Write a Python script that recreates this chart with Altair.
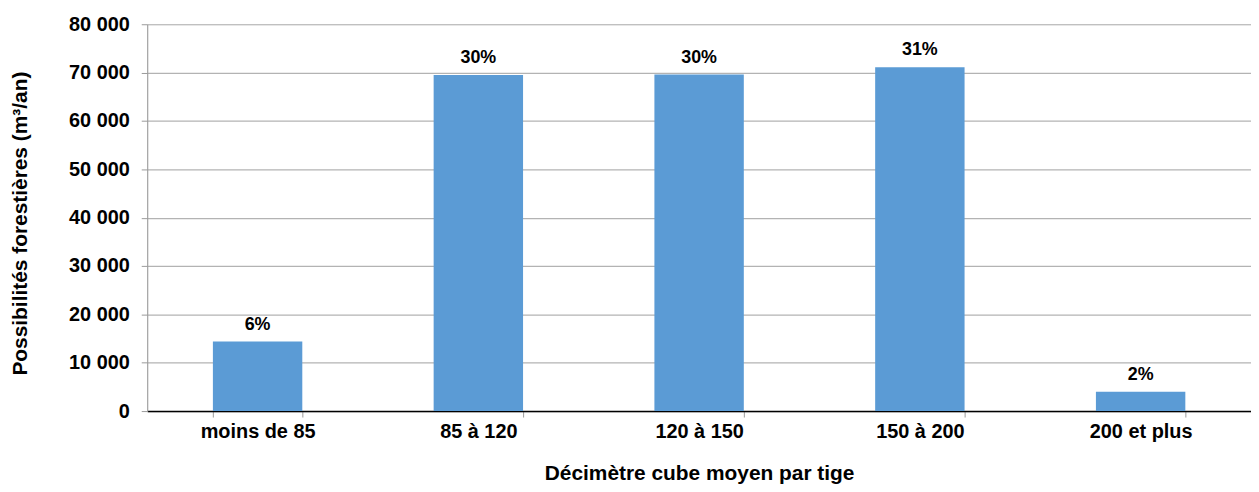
import altair as alt
import pandas as pd

categories = ["moins de 85", "85 à 120", "120 à 150", "150 à 200", "200 et plus"]
values = [14400, 69500, 69600, 71100, 4000]
pct_labels = ["6%", "30%", "30%", "31%", "2%"]

df = pd.DataFrame({"cat": categories, "val": values, "pct": pct_labels})

FONT = "Liberation Sans"

x = alt.X(
    "cat:N",
    sort=categories,
    title="Décimètre cube moyen par tige",
    scale=alt.Scale(paddingInner=0.595, paddingOuter=0.2975),
    axis=alt.Axis(
        labelAngle=0,
        labelFont=FONT,
        labelFontSize=20,
        labelFontWeight="bold",
        labelColor="#000000",
        labelPadding=5,
        titleFont=FONT,
        titleFontSize=21,
        titleFontWeight="bold",
        titleColor="#000000",
        titlePadding=21,
        domainColor="#000000",
        domainWidth=1.5,
        tickColor="#9a9a9a",
        tickSize=6,
        tickBand="extent",
        grid=False,
    ),
)

y = alt.Y(
    "val:Q",
    title="Possibilités forestières (m³/an)",
    scale=alt.Scale(domain=[0, 80000], nice=False),
    axis=alt.Axis(
        values=[0, 10000, 20000, 30000, 40000, 50000, 60000, 70000, 80000],
        labelExpr="replace(format(datum.value, ','), ',', ' ')",
        labelFont=FONT,
        labelFontSize=20,
        labelFontWeight="bold",
        labelColor="#000000",
        labelPadding=12,
        titleFont=FONT,
        titleFontSize=21,
        titleFontWeight="bold",
        titleColor="#000000",
        titleX=-127,
        titleY=200,
        titleBaseline="middle",
        domainColor="#9a9a9a",
        tickColor="#9a9a9a",
        tickSize=6,
        gridColor="#b3b3b3",
        gridWidth=1.2,
    ),
)

bars = alt.Chart(df).mark_bar(color="#5b9bd5").encode(x=x, y=y)

text = alt.Chart(df).mark_text(
    font=FONT, fontSize=18, fontWeight="bold", color="#000000",
    baseline="alphabetic", dy=-12,
).encode(
    x=alt.X("cat:N", sort=categories),
    y=alt.Y("val:Q"),
    text="pct:N",
)

chart = (
    alt.layer(bars, text)
    .properties(
        width=1110,
        height=389,
        autosize=alt.AutoSizeParams(type="none"),
        padding={"left": 140, "top": 15, "right": 0, "bottom": 72},
    )
    .configure_view(stroke=None)
    .configure(background="#ffffff")
)

chart.save("out.html", embed_options={"renderer": "svg", "actions": False})
